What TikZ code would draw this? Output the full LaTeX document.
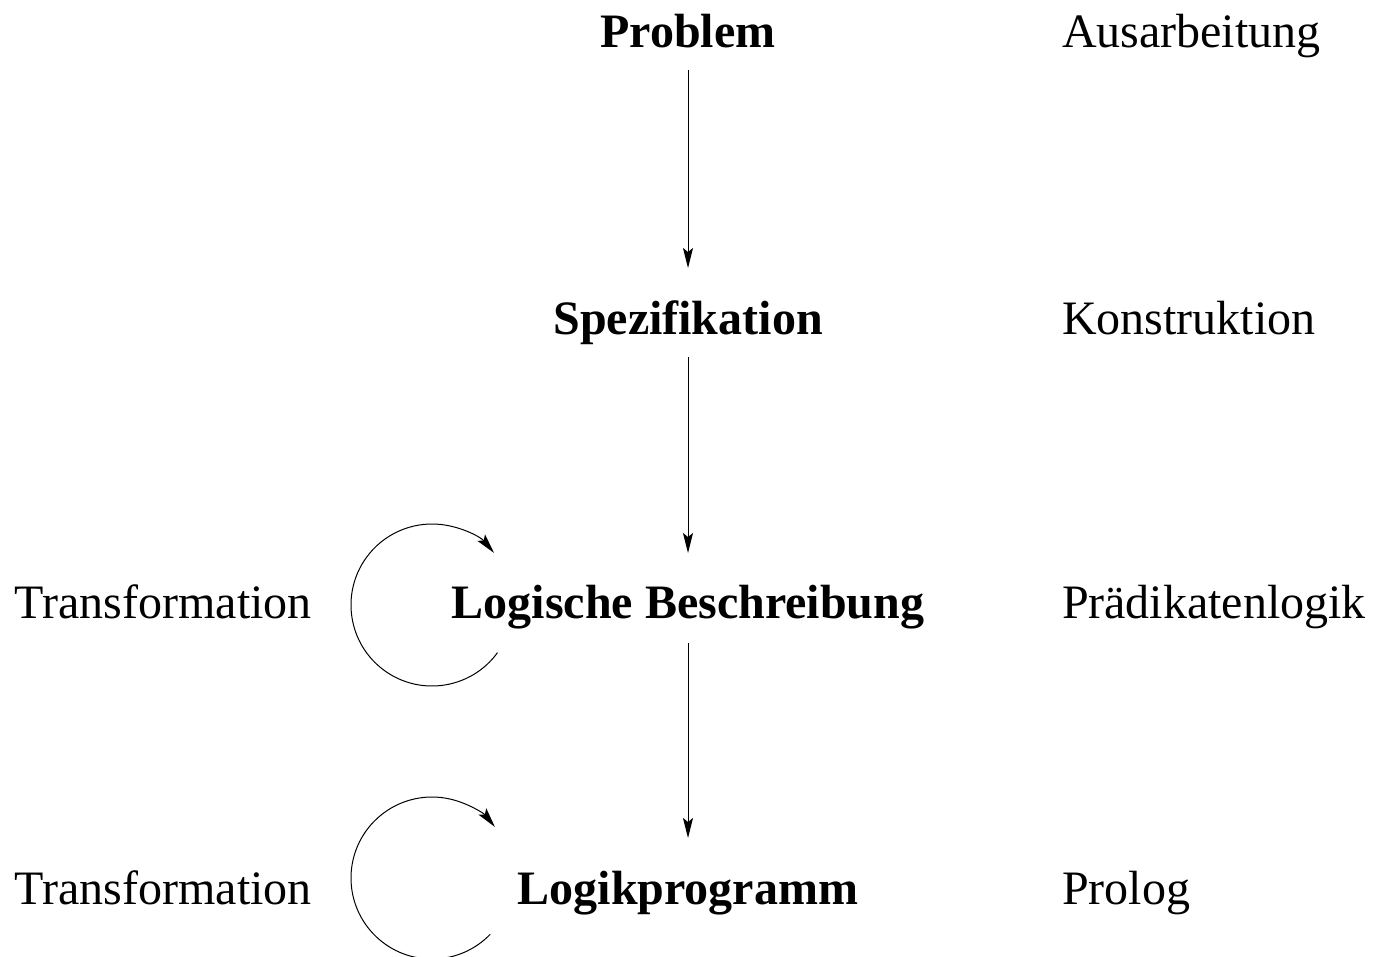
\documentclass[tikz,border=0pt]{standalone}
\usepackage{fontspec}
\setmainfont{Liberation Serif}
\usetikzlibrary{arrows.meta}
\begin{document}
\begin{tikzpicture}[x=0.5pt,y=-0.5pt,
  every node/.style={inner sep=0pt,outer sep=0pt,font=\fontsize{24}{28}\selectfont},
  main/.style={anchor=base,font=\fontsize{24}{28}\selectfont\bfseries},
  side/.style={anchor=base west},
  flow/.style={line width=0.5pt,-{Stealth[length=10pt,width=5pt,inset=2pt]}},
  loop/.style={line width=0.5pt,-{Stealth[length=10pt,width=5pt,inset=2pt]}}]
\useasboundingbox (0,0) rectangle (1373,957);
\node[main] (p) at (688,48) {Problem};
\node[main] (s) at (688,335) {Spezifikation};
\node[main] (l) at (688,618) {Logische Beschreibung};
\node[main] (g) at (688,904) {Logikprogramm};
\node[side] (r1) at (1062,48) {Ausarbeitung};
\node[side] (r2) at (1062,335) {Konstruktion};
\node[side] (r3) at (1062,618) {Prädikatenlogik};
\node[side] (r4) at (1062,904) {Prolog};
\node[side] (t1) at (15,618) {Transformation};
\node[side] (t2) at (15,904) {Transformation};
\coordinate (c1) at (432,605);
\coordinate (c2) at (432,878);
\draw[flow] (p.south |- 0,70) -- (s.north |- 0,268);
\draw[flow] (s.south |- 0,357) -- (l.north |- 0,553);
\draw[flow] (l.south |- 0,643) -- (g.north |- 0,838);
\draw[loop] (c1) ++(36:81) arc[start angle=36,end angle=320,radius=81];
\draw[loop] (c2) ++(44:81) arc[start angle=44,end angle=321,radius=81];
\end{tikzpicture}
\end{document}
